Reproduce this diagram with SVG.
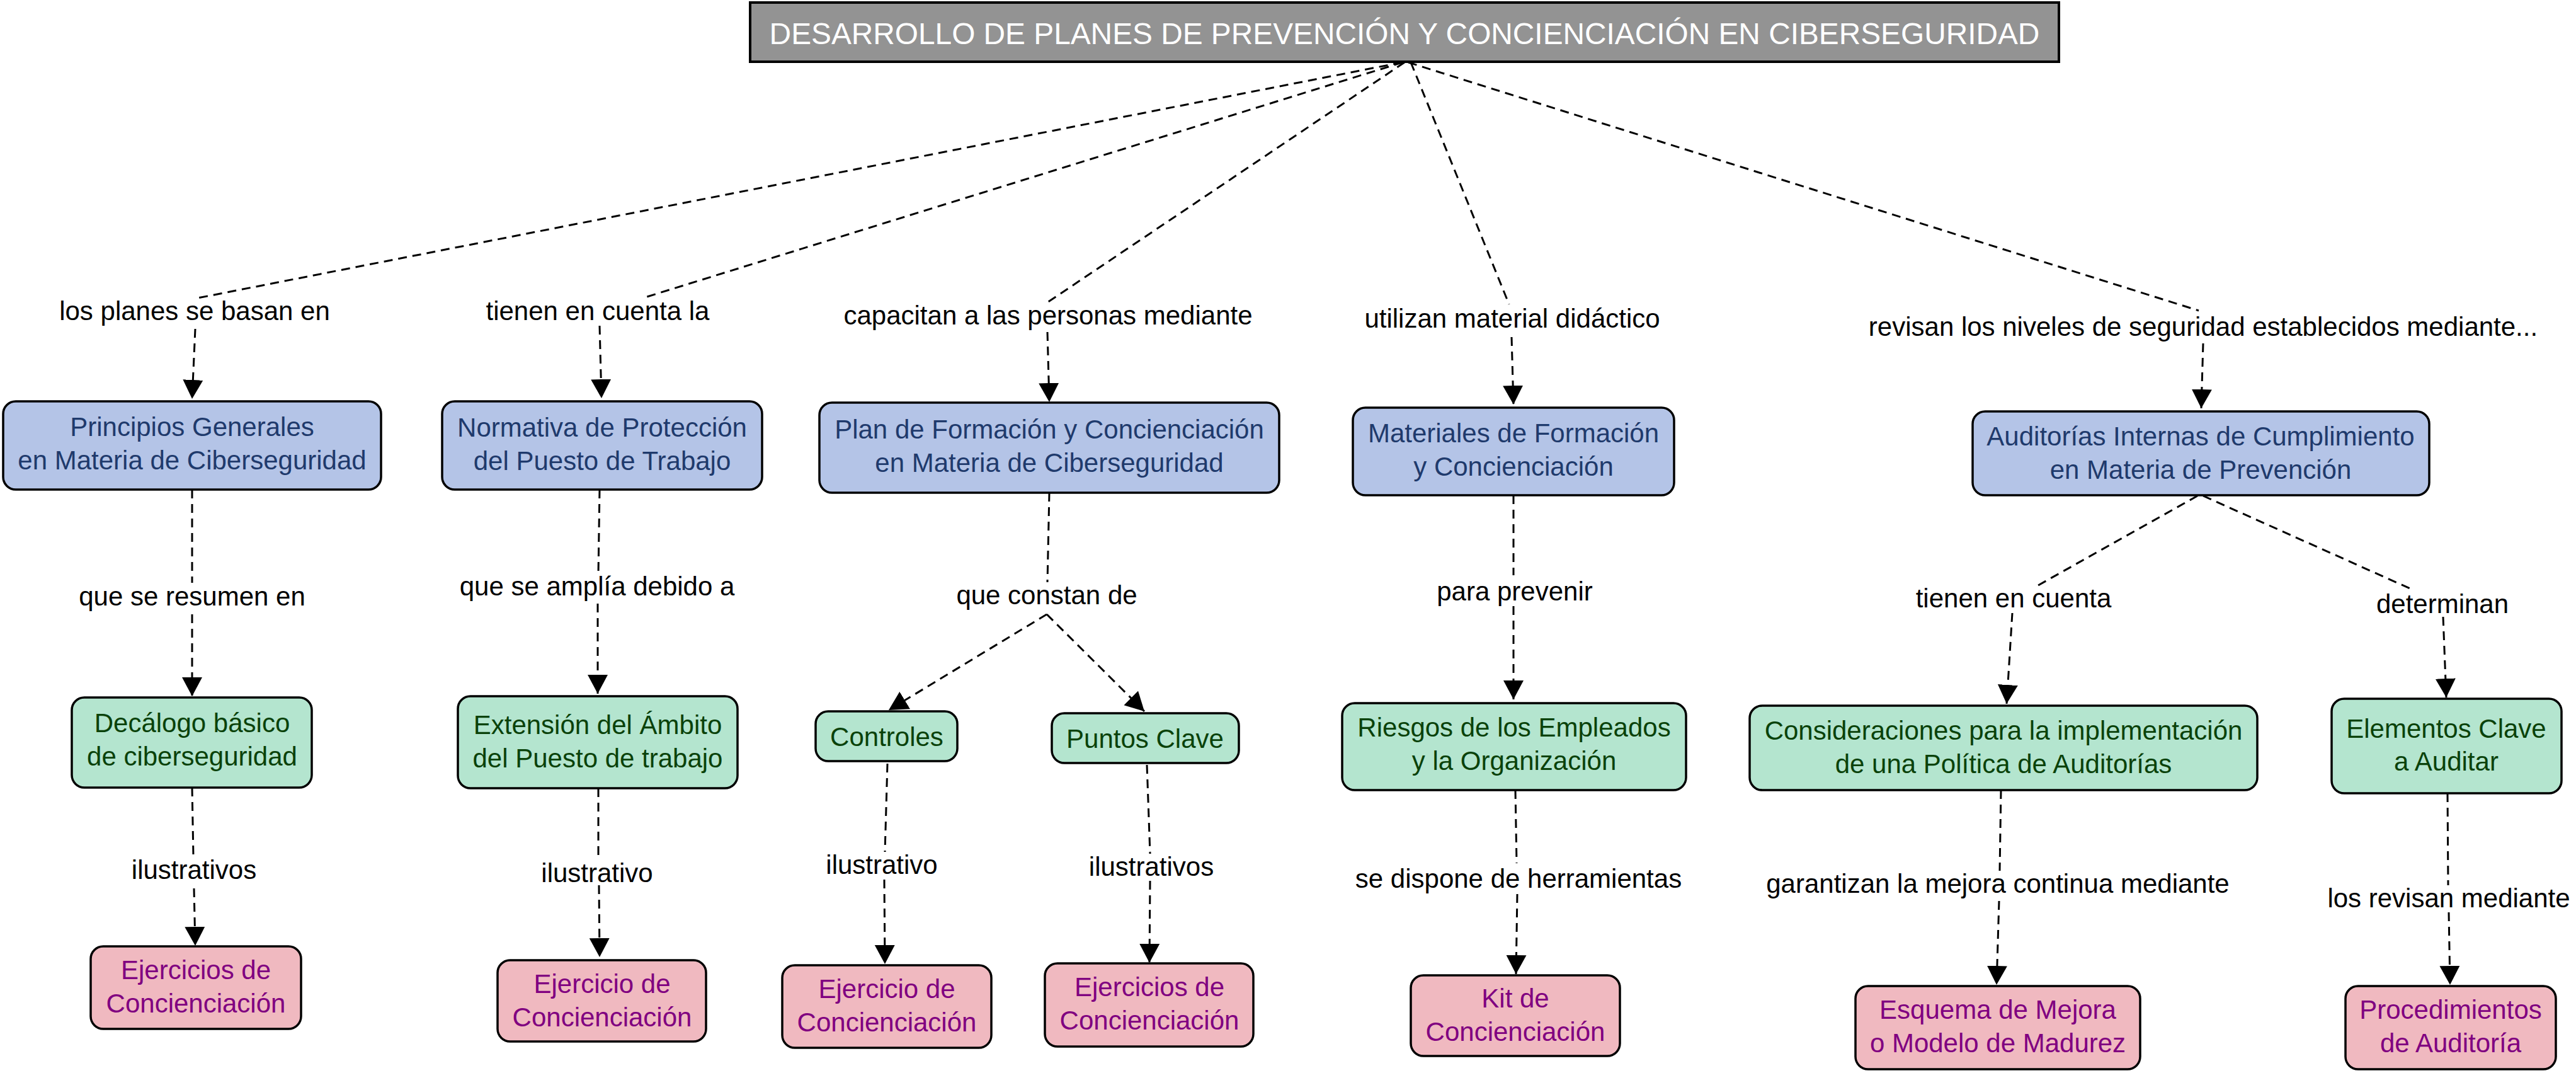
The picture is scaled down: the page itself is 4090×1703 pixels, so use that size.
<svg xmlns="http://www.w3.org/2000/svg" width="4090" height="1703" viewBox="0 0 4090 1703">
<style>
text{font-family:"Liberation Sans",Arial,sans-serif;font-size:42px;text-anchor:middle}
.box{stroke:#000;stroke-width:3.5}
.blue rect{fill:#b4c4e7}.blue text{fill:#1f3a6c}
.green rect{fill:#b4e5cf}.green text{fill:#0a420a}
.pink rect{fill:#f0b9c0}.pink text{fill:#800080}
.lbl{fill:#000}
.ttl{font-size:47.8px;fill:#fff}
#connectors path{fill:none;stroke:#000;stroke-width:3;stroke-dasharray:14 9}
</style>
<defs>
<marker id="arr" markerUnits="userSpaceOnUse" markerWidth="32" markerHeight="34" refX="30" refY="17" orient="auto" viewBox="0 0 32 34">
<path d="M0,1 L30,17 L0,33 z" fill="#000" stroke="none"/>
</marker>
</defs>
<rect width="4090" height="1703" fill="#fff"/>

<g id="connectors">
<path d="M2226,99 L314,473"/>
<path d="M2227,99 L1024,472"/>
<path d="M2230,99 L1663,480"/>
<path d="M2240,99 L2396,483"/>
<path d="M2236,99 L3491,493"/>
<path d="M310,522 L305,633" marker-end="url(#arr)"/>
<path d="M952,517 L955,632" marker-end="url(#arr)"/>
<path d="M1663,527 L1666,638" marker-end="url(#arr)"/>
<path d="M2400,535 L2403,642" marker-end="url(#arr)"/>
<path d="M3498,545 L3495,648" marker-end="url(#arr)"/>
<path d="M305,777 L305,925"/>
<path d="M305,975 L305,1105" marker-end="url(#arr)"/>
<path d="M305,1250 L307,1360"/>
<path d="M308,1410 L310,1501" marker-end="url(#arr)"/>
<path d="M952,777 L950,910"/>
<path d="M949,958 L949,1101" marker-end="url(#arr)"/>
<path d="M950,1251 L950,1363"/>
<path d="M951,1405 L952,1519" marker-end="url(#arr)"/>
<path d="M1666,782 L1663,924"/>
<path d="M1662,975 L1411,1127" marker-end="url(#arr)"/>
<path d="M1662,975 L1817,1129" marker-end="url(#arr)"/>
<path d="M1409,1212 L1405,1352"/>
<path d="M1404,1396 L1405,1530" marker-end="url(#arr)"/>
<path d="M1821,1214 L1826,1355"/>
<path d="M1826,1398 L1825,1528" marker-end="url(#arr)"/>
<path d="M2403,786 L2403,913"/>
<path d="M2403,962 L2403,1110" marker-end="url(#arr)"/>
<path d="M2406,1254 L2408,1370"/>
<path d="M2409,1419 L2407,1546" marker-end="url(#arr)"/>
<path d="M3489,787 L3236,929"/>
<path d="M3195,973 L3186,1117" marker-end="url(#arr)"/>
<path d="M3498,787 L3833,937"/>
<path d="M3879,979 L3884,1107" marker-end="url(#arr)"/>
<path d="M3177,1254 L3175,1382"/>
<path d="M3174,1430 L3170,1563" marker-end="url(#arr)"/>
<path d="M3886,1259 L3887,1405"/>
<path d="M3888,1448 L3890,1563" marker-end="url(#arr)"/>
</g>

<g id="labels" class="lbl">
<text x="309" y="508">los planes se basan en</text>
<text x="949" y="508">tienen en cuenta la</text>
<text x="1664" y="515">capacitan a las personas mediante</text>
<text x="2401" y="520">utilizan material didáctico</text>
<text x="3498" y="533">revisan los niveles de seguridad establecidos mediante...</text>
<text x="305" y="961">que se resumen en</text>
<text x="948" y="945">que se amplía debido a</text>
<text x="1662" y="959">que constan de</text>
<text x="2405" y="953">para prevenir</text>
<text x="3197" y="964">tienen en cuenta</text>
<text x="3878" y="973">determinan</text>
<text x="308" y="1395">ilustrativos</text>
<text x="948" y="1400">ilustrativo</text>
<text x="1400" y="1387">ilustrativo</text>
<text x="1828" y="1390">ilustrativos</text>
<text x="2411" y="1409">se dispone de herramientas</text>
<text x="3172" y="1417">garantizan la mejora continua mediante</text>
<text x="3888" y="1440">los revisan mediante</text>
</g>

<g id="title">
<rect x="1191" y="4" width="2078" height="94" fill="#939393" stroke="#000" stroke-width="4"/>
<text class="ttl" x="2230" y="70">DESARROLLO DE PLANES DE PREVENCIÓN Y CONCIENCIACIÓN EN CIBERSEGURIDAD</text>
</g>

<g id="n-principios" class="blue">
<rect class="box" x="5" y="637" width="600" height="140" rx="20"/>
<text x="305" y="692">Principios Generales</text>
<text x="305" y="745">en Materia de Ciberseguridad</text>
</g>
<g id="n-normativa" class="blue">
<rect class="box" x="702" y="637" width="508" height="140" rx="20"/>
<text x="956" y="693">Normativa de Protección</text>
<text x="956" y="746">del Puesto de Trabajo</text>
</g>
<g id="n-plan" class="blue">
<rect class="box" x="1301" y="639" width="730" height="143" rx="20"/>
<text x="1666" y="696">Plan de Formación y Concienciación</text>
<text x="1666" y="749">en Materia de Ciberseguridad</text>
</g>
<g id="n-materiales" class="blue">
<rect class="box" x="2148" y="647" width="510" height="139" rx="20"/>
<text x="2403" y="702">Materiales de Formación</text>
<text x="2403" y="755">y Concienciación</text>
</g>
<g id="n-auditorias" class="blue">
<rect class="box" x="3132" y="653" width="725" height="133" rx="20"/>
<text x="3494" y="707">Auditorías Internas de Cumplimiento</text>
<text x="3494" y="760">en Materia de Prevención</text>
</g>

<g id="n-decalogo" class="green">
<rect class="box" x="114" y="1107" width="381" height="143" rx="20"/>
<text x="305" y="1162">Decálogo básico</text>
<text x="305" y="1215">de ciberseguridad</text>
</g>
<g id="n-extension" class="green">
<rect class="box" x="727" y="1105" width="444" height="146" rx="20"/>
<text x="949" y="1165">Extensión del Ámbito</text>
<text x="949" y="1218">del Puesto de trabajo</text>
</g>
<g id="n-controles" class="green">
<rect class="box" x="1295" y="1129" width="225" height="79" rx="20"/>
<text x="1408" y="1184">Controles</text>
</g>
<g id="n-puntos" class="green">
<rect class="box" x="1670" y="1132" width="297" height="79" rx="20"/>
<text x="1818" y="1187">Puntos Clave</text>
</g>
<g id="n-riesgos" class="green">
<rect class="box" x="2131" y="1116" width="546" height="138" rx="20"/>
<text x="2404" y="1169">Riesgos de los Empleados</text>
<text x="2404" y="1222">y la Organización</text>
</g>
<g id="n-consideraciones" class="green">
<rect class="box" x="2778" y="1120" width="806" height="134" rx="20"/>
<text x="3181" y="1174">Consideraciones para la implementación</text>
<text x="3181" y="1227">de una Política de Auditorías</text>
</g>
<g id="n-elementos" class="green">
<rect class="box" x="3702" y="1109" width="365" height="150" rx="20"/>
<text x="3884" y="1171">Elementos Clave</text>
<text x="3884" y="1223">a Auditar</text>
</g>

<g id="n-ejercicios1" class="pink">
<rect class="box" x="144" y="1502" width="334" height="131" rx="20"/>
<text x="311" y="1554">Ejercicios de</text>
<text x="311" y="1607">Concienciación</text>
</g>
<g id="n-ejercicio2" class="pink">
<rect class="box" x="790" y="1524" width="331" height="129" rx="20"/>
<text x="956" y="1576">Ejercicio de</text>
<text x="956" y="1629">Concienciación</text>
</g>
<g id="n-ejercicio3" class="pink">
<rect class="box" x="1242" y="1532" width="332" height="131" rx="20"/>
<text x="1408" y="1584">Ejercicio de</text>
<text x="1408" y="1637">Concienciación</text>
</g>
<g id="n-ejercicios4" class="pink">
<rect class="box" x="1659" y="1529" width="331" height="132" rx="20"/>
<text x="1825" y="1581">Ejercicios de</text>
<text x="1825" y="1634">Concienciación</text>
</g>
<g id="n-kit" class="pink">
<rect class="box" x="2240" y="1548" width="332" height="128" rx="20"/>
<text x="2406" y="1599">Kit de</text>
<text x="2406" y="1652">Concienciación</text>
</g>
<g id="n-esquema" class="pink">
<rect class="box" x="2946" y="1565" width="452" height="132" rx="20"/>
<text x="3172" y="1617">Esquema de Mejora</text>
<text x="3172" y="1670">o Modelo de Madurez</text>
</g>
<g id="n-procedimientos" class="pink">
<rect class="box" x="3724" y="1565" width="334" height="132" rx="20"/>
<text x="3891" y="1617">Procedimientos</text>
<text x="3891" y="1670">de Auditoría</text>
</g>
</svg>
